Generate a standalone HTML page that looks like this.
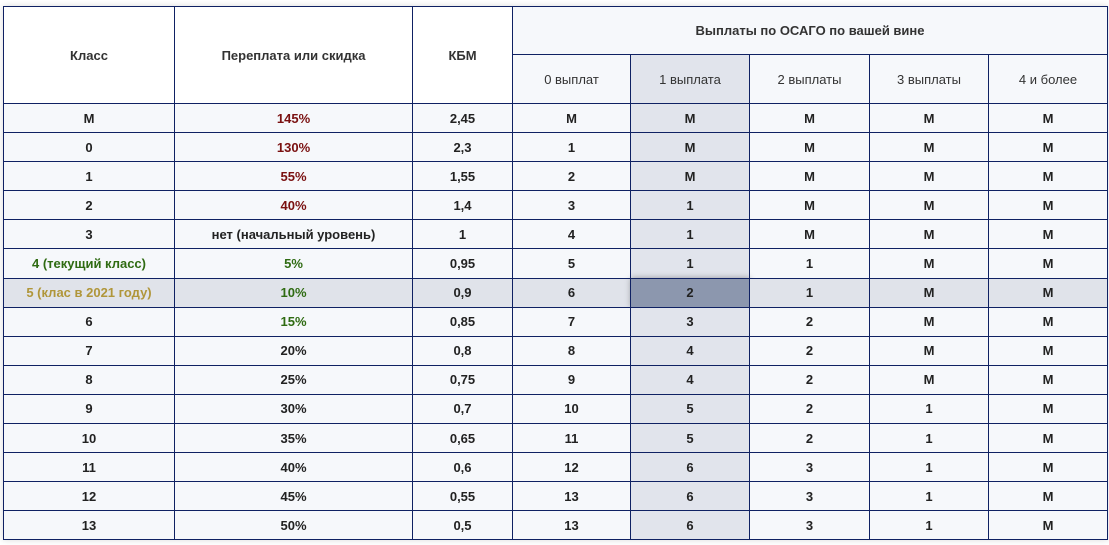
<!DOCTYPE html>
<html><head><meta charset="utf-8"><style>
html,body{margin:0;padding:0;background:#fff;width:1109px;height:545px;overflow:hidden}
table{position:absolute;left:3px;top:6px;border-collapse:collapse;table-layout:fixed;width:1104px;font-family:"Liberation Sans","DejaVu Sans",sans-serif;font-size:13px;color:#222;box-shadow:0 0 6px rgba(0,0,0,.15)}
td,th{border:1px solid #0f2163;text-align:center;padding:0;font-weight:bold}
th{background:#fff;font-size:13px;color:#333}
.sub th{font-weight:normal;background:#f6f8fb;height:48px}
tr.r td{height:28.1px;background:#f6f8fb}
tr.r td.c{background:#e1e4ec}
tr.hl td{background:#e0e3ea}
tr.hl td.x{background:#8c97ae;box-shadow:0 0 6px rgba(0,0,0,.35)}
.red{color:#7a1010}.grn{color:#2f6b12}.gld{color:#b0963a}
</style></head><body>
<table>
<colgroup><col style="width:171px"><col style="width:238px"><col style="width:100px"><col style="width:118px"><col style="width:119px"><col style="width:120px"><col style="width:119px"><col style="width:119px"></colgroup>
<tr style="height:48px"><th rowspan="2">Класс</th><th rowspan="2">Переплата или скидка</th><th rowspan="2">КБМ</th><th colspan="5" style="background:#f6f8fb">Выплаты по ОСАГО по вашей вине</th></tr>
<tr class="sub"><th>0 выплат</th><th style="background:#e1e4ec">1 выплата</th><th>2 выплаты</th><th>3 выплаты</th><th>4 и более</th></tr>
<tr class="r"><td>М</td><td class="red">145%</td><td>2,45</td><td>М</td><td class="c">М</td><td>М</td><td>М</td><td>М</td></tr>
<tr class="r"><td>0</td><td class="red">130%</td><td>2,3</td><td>1</td><td class="c">М</td><td>М</td><td>М</td><td>М</td></tr>
<tr class="r"><td>1</td><td class="red">55%</td><td>1,55</td><td>2</td><td class="c">М</td><td>М</td><td>М</td><td>М</td></tr>
<tr class="r"><td>2</td><td class="red">40%</td><td>1,4</td><td>3</td><td class="c">1</td><td>М</td><td>М</td><td>М</td></tr>
<tr class="r"><td>3</td><td>нет (начальный уровень)</td><td>1</td><td>4</td><td class="c">1</td><td>М</td><td>М</td><td>М</td></tr>
<tr class="r"><td class="grn">4 (текущий класс)</td><td class="grn">5%</td><td>0,95</td><td>5</td><td class="c">1</td><td>1</td><td>М</td><td>М</td></tr>
<tr class="r hl"><td class="gld">5 (клас в 2021 году)</td><td class="grn">10%</td><td>0,9</td><td>6</td><td class="x">2</td><td>1</td><td>М</td><td>М</td></tr>
<tr class="r"><td>6</td><td class="grn">15%</td><td>0,85</td><td>7</td><td class="c">3</td><td>2</td><td>М</td><td>М</td></tr>
<tr class="r"><td>7</td><td>20%</td><td>0,8</td><td>8</td><td class="c">4</td><td>2</td><td>М</td><td>М</td></tr>
<tr class="r"><td>8</td><td>25%</td><td>0,75</td><td>9</td><td class="c">4</td><td>2</td><td>М</td><td>М</td></tr>
<tr class="r"><td>9</td><td>30%</td><td>0,7</td><td>10</td><td class="c">5</td><td>2</td><td>1</td><td>М</td></tr>
<tr class="r"><td>10</td><td>35%</td><td>0,65</td><td>11</td><td class="c">5</td><td>2</td><td>1</td><td>М</td></tr>
<tr class="r"><td>11</td><td>40%</td><td>0,6</td><td>12</td><td class="c">6</td><td>3</td><td>1</td><td>М</td></tr>
<tr class="r"><td>12</td><td>45%</td><td>0,55</td><td>13</td><td class="c">6</td><td>3</td><td>1</td><td>М</td></tr>
<tr class="r"><td>13</td><td>50%</td><td>0,5</td><td>13</td><td class="c">6</td><td>3</td><td>1</td><td>М</td></tr>
</table>
</body></html>
